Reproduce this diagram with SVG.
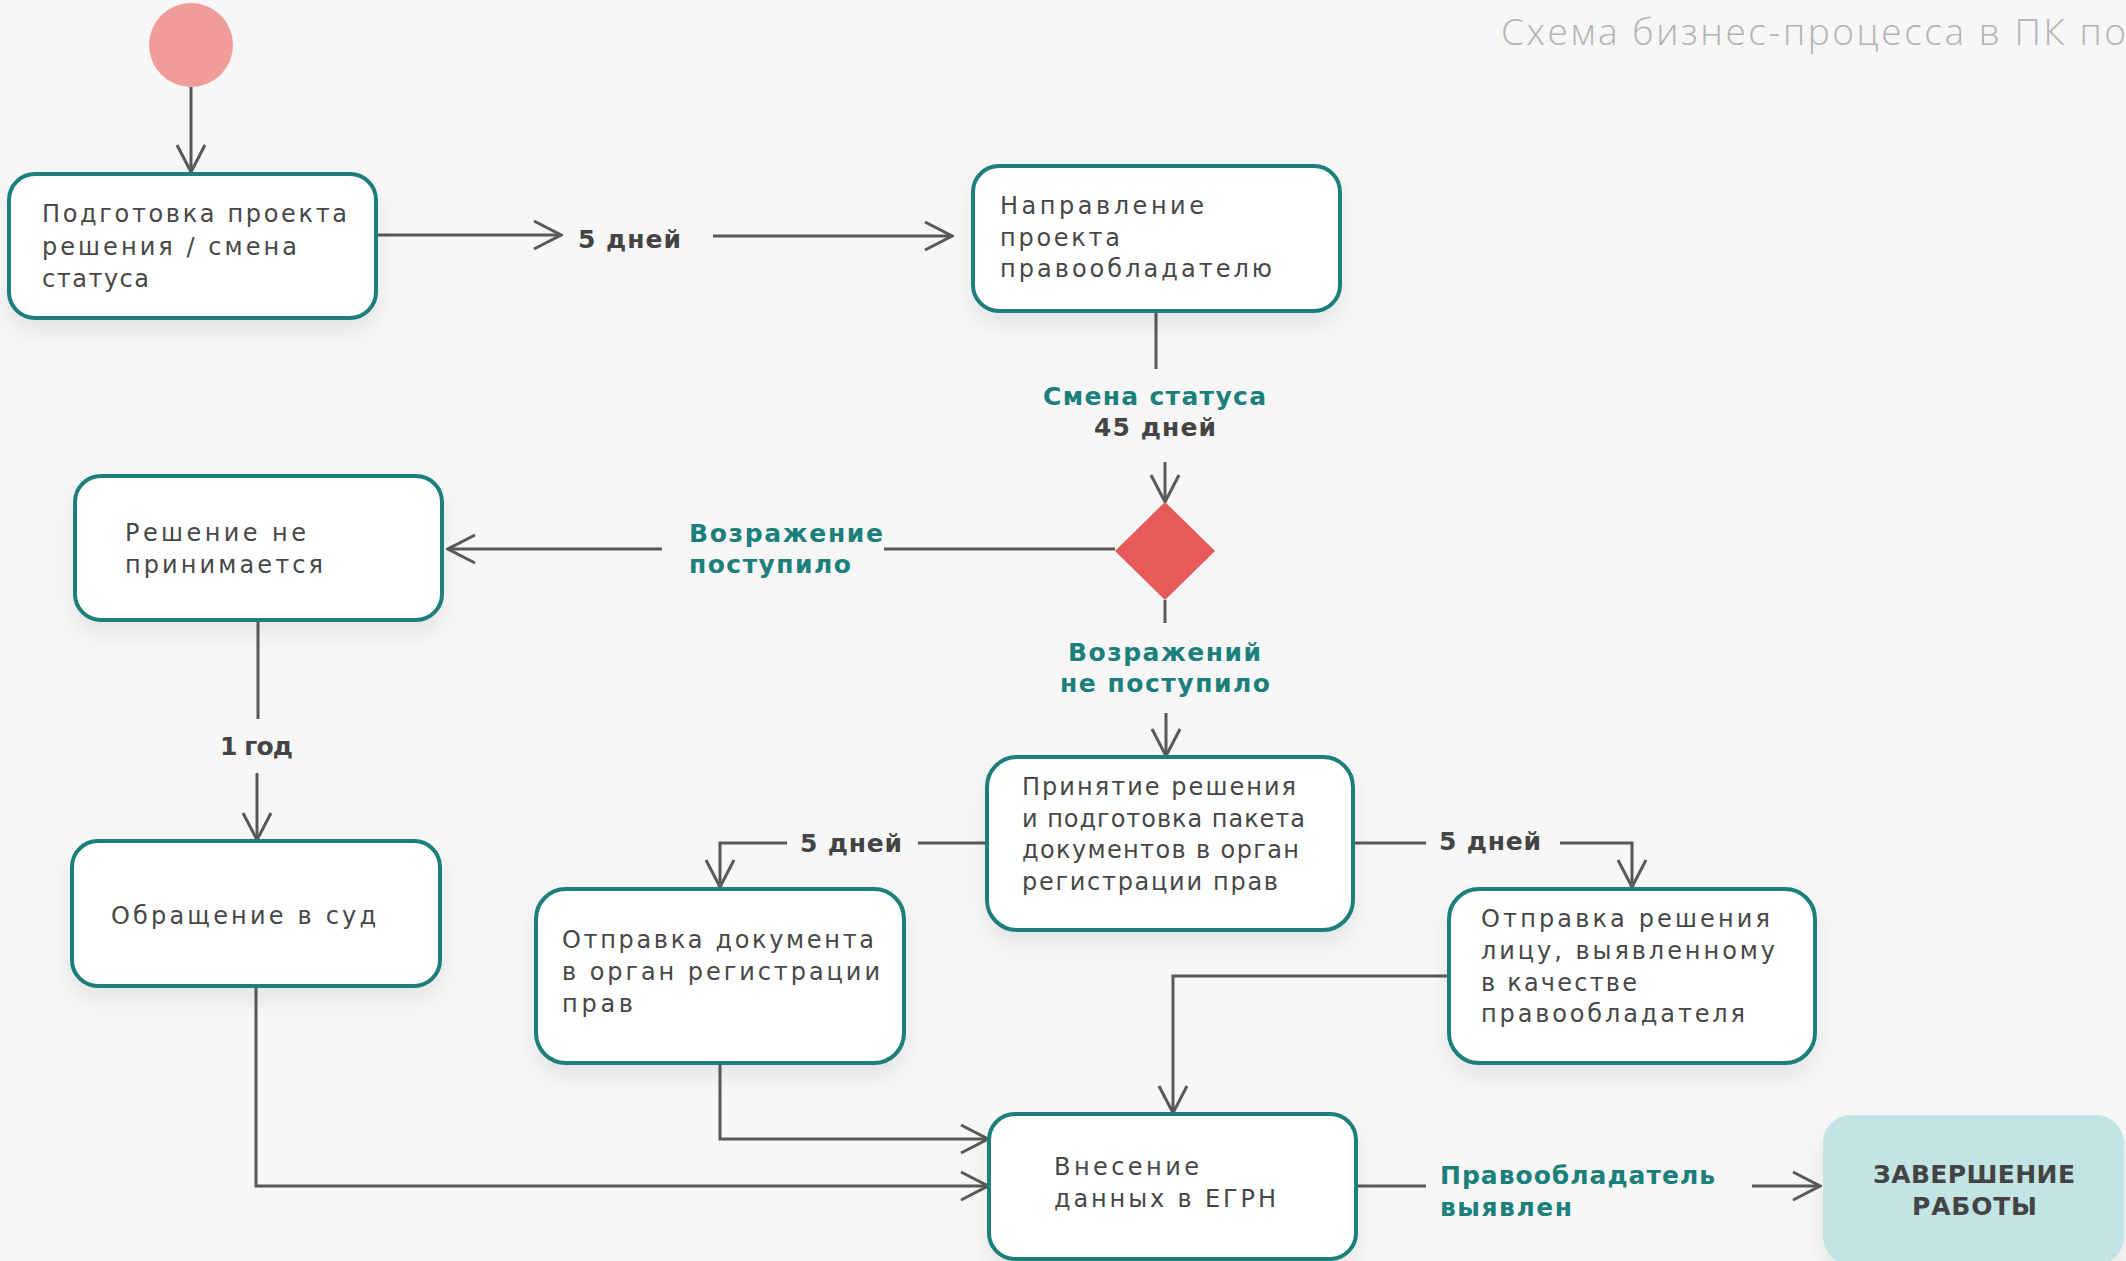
<svg xmlns="http://www.w3.org/2000/svg" width="2126" height="1261" viewBox="0 0 2126 1261">
<defs>
<style>
.node{fill:#ffffff;stroke:#1b7f7b;stroke-width:4}
.t{font-family:"DejaVu Sans","Open Sans",sans-serif;font-size:24px;fill:#474747;font-weight:400}
.lb{font-family:"DejaVu Sans","Open Sans",sans-serif;font-size:25px;font-weight:700;fill:#444444}
.lt{font-family:"DejaVu Sans","Open Sans",sans-serif;font-size:25px;font-weight:700;fill:#1b7f7b}
.c{fill:none;stroke:#595959;stroke-width:3}
.ca{fill:none;stroke:#595959;stroke-width:3;marker-end:url(#arr)}
</style>
<marker id="arr" markerUnits="userSpaceOnUse" viewBox="-30 -16 32 32" markerWidth="32" markerHeight="32" refX="0" refY="0" orient="auto">
<path d="M-27,-14 L0,0 L-27,14" fill="none" stroke="#595959" stroke-width="3"/>
</marker>
<filter id="sh" x="-10%" y="-10%" width="120%" height="140%">
<feDropShadow dx="0" dy="12" stdDeviation="10" flood-color="#000" flood-opacity="0.07"/>
</filter>
</defs>
<rect x="0" y="0" width="2126" height="1261" fill="#f7f7f7"/>
<text x="1501" y="45" font-family="Open Sans, Noto Sans, sans-serif" font-size="37" font-weight="300" fill="#b3b3b3" textLength="625" lengthAdjust="spacing">Схема бизнес-процесса в ПК по</text>

<g id="connectors">
<path class="ca" d="M191,87 V172"/>
<path class="ca" d="M376,235 H561"/>
<path class="ca" d="M713,236 H952"/>
<path class="c" d="M1156,311 V369"/>
<path class="ca" d="M1165,462 V502"/>
<path class="c" d="M1115,549 H884"/>
<path class="ca" d="M662,549 H448"/>
<path class="c" d="M1165,600 V623"/>
<path class="ca" d="M1166,713 V756"/>
<path class="c" d="M258,620 V719"/>
<path class="ca" d="M257,773 V840"/>
<path class="c" d="M987,843 H918"/>
<path class="ca" d="M787,843 H720 V887"/>
<path class="c" d="M1353,843 H1426"/>
<path class="ca" d="M1560,843 H1632 V887"/>
<path class="ca" d="M1449,976 H1173 V1113"/>
<path class="ca" d="M720,1063 V1139 H988"/>
<path class="ca" d="M256,986 V1186 H988"/>
<path class="c" d="M1356,1186 H1426"/>
<path class="ca" d="M1752,1186 H1820"/>
<text class="lb" x="578" y="248" textLength="103" lengthAdjust="spacing">5 дней</text>
<text class="lt" x="1043" y="405" textLength="223" lengthAdjust="spacing">Смена статуса</text>
<text class="lb" x="1094" y="436" textLength="122" lengthAdjust="spacing">45 дней</text>
<text class="lt" x="689" y="542" textLength="194" lengthAdjust="spacing">Возражение</text>
<text class="lt" x="689" y="573" textLength="162" lengthAdjust="spacing">поступило</text>
<text class="lt" x="1068" y="661" textLength="193" lengthAdjust="spacing">Возражений</text>
<text class="lt" x="1060" y="692" textLength="210" lengthAdjust="spacing">не поступило</text>
<text class="lb" x="220" y="755" textLength="73" lengthAdjust="spacing">1 год</text>
<text class="lb" x="800" y="852" textLength="102" lengthAdjust="spacing">5 дней</text>
<text class="lb" x="1439" y="850" textLength="102" lengthAdjust="spacing">5 дней</text>
<text class="lt" x="1440" y="1184" textLength="275" lengthAdjust="spacing">Правообладатель</text>
<text class="lt" x="1440" y="1216" textLength="132" lengthAdjust="spacing">выявлен</text>
</g>

<g id="start">
<circle cx="191" cy="45" r="42" fill="#f29c9a"/>
</g>

<g id="n1">
<rect class="node" x="9" y="174" width="367" height="144" rx="26" filter="url(#sh)"/>
<text class="t" x="42" y="222" textLength="305" lengthAdjust="spacing">Подготовка проекта</text>
<text class="t" x="42" y="255" textLength="255" lengthAdjust="spacing">решения / смена</text>
<text class="t" x="42" y="287" textLength="107" lengthAdjust="spacing">статуса</text>
</g>

<g id="n2">
<rect class="node" x="973" y="166" width="367" height="145" rx="26" filter="url(#sh)"/>
<text class="t" x="1000" y="214" textLength="204" lengthAdjust="spacing">Направление</text>
<text class="t" x="1000" y="246" textLength="120" lengthAdjust="spacing">проекта</text>
<text class="t" x="1000" y="277" textLength="272" lengthAdjust="spacing">правообладателю</text>
</g>

<g id="decision">
<polygon points="1165,502 1215,551 1165,600 1115,551" fill="#e85959"/>
</g>

<g id="n3">
<rect class="node" x="75" y="476" width="367" height="144" rx="26" filter="url(#sh)"/>
<text class="t" x="125" y="541" textLength="181" lengthAdjust="spacing">Решение не</text>
<text class="t" x="125" y="573" textLength="198" lengthAdjust="spacing">принимается</text>
</g>

<g id="n4">
<rect class="node" x="72" y="841" width="368" height="145" rx="26" filter="url(#sh)"/>
<text class="t" x="111" y="924" textLength="265" lengthAdjust="spacing">Обращение в суд</text>
</g>

<g id="n5">
<rect class="node" x="987" y="757" width="366" height="173" rx="30" filter="url(#sh)"/>
<text class="t" x="1022" y="795" textLength="274" lengthAdjust="spacing">Принятие решения</text>
<text class="t" x="1022" y="827" textLength="283" lengthAdjust="spacing">и подготовка пакета</text>
<text class="t" x="1022" y="858" textLength="277" lengthAdjust="spacing">документов в орган</text>
<text class="t" x="1022" y="890" textLength="256" lengthAdjust="spacing">регистрации прав</text>
</g>

<g id="n6">
<rect class="node" x="536" y="889" width="368" height="174" rx="30" filter="url(#sh)"/>
<text class="t" x="562" y="948" textLength="312" lengthAdjust="spacing">Отправка документа</text>
<text class="t" x="562" y="980" textLength="318" lengthAdjust="spacing">в орган регистрации</text>
<text class="t" x="562" y="1012" textLength="71" lengthAdjust="spacing">прав</text>
</g>

<g id="n7">
<rect class="node" x="1449" y="889" width="366" height="174" rx="30" filter="url(#sh)"/>
<text class="t" x="1481" y="927" textLength="289" lengthAdjust="spacing">Отправка решения</text>
<text class="t" x="1481" y="959" textLength="294" lengthAdjust="spacing">лицу, выявленному</text>
<text class="t" x="1481" y="991" textLength="156" lengthAdjust="spacing">в качестве</text>
<text class="t" x="1481" y="1022" textLength="264" lengthAdjust="spacing">правообладателя</text>
</g>

<g id="n8">
<rect class="node" x="989" y="1114" width="367" height="145" rx="26" filter="url(#sh)"/>
<text class="t" x="1054" y="1175" textLength="145" lengthAdjust="spacing">Внесение</text>
<text class="t" x="1054" y="1207" textLength="222" lengthAdjust="spacing">данных в ЕГРН</text>
</g>

<g id="end">
<rect x="1823" y="1115" width="301" height="150" rx="28" fill="#c2e4e5" filter="url(#sh)"/>
<text class="lb" x="1873" y="1183" textLength="202" lengthAdjust="spacing">ЗАВЕРШЕНИЕ</text>
<text class="lb" x="1912" y="1215" textLength="125" lengthAdjust="spacing">РАБОТЫ</text>
</g>
</svg>
